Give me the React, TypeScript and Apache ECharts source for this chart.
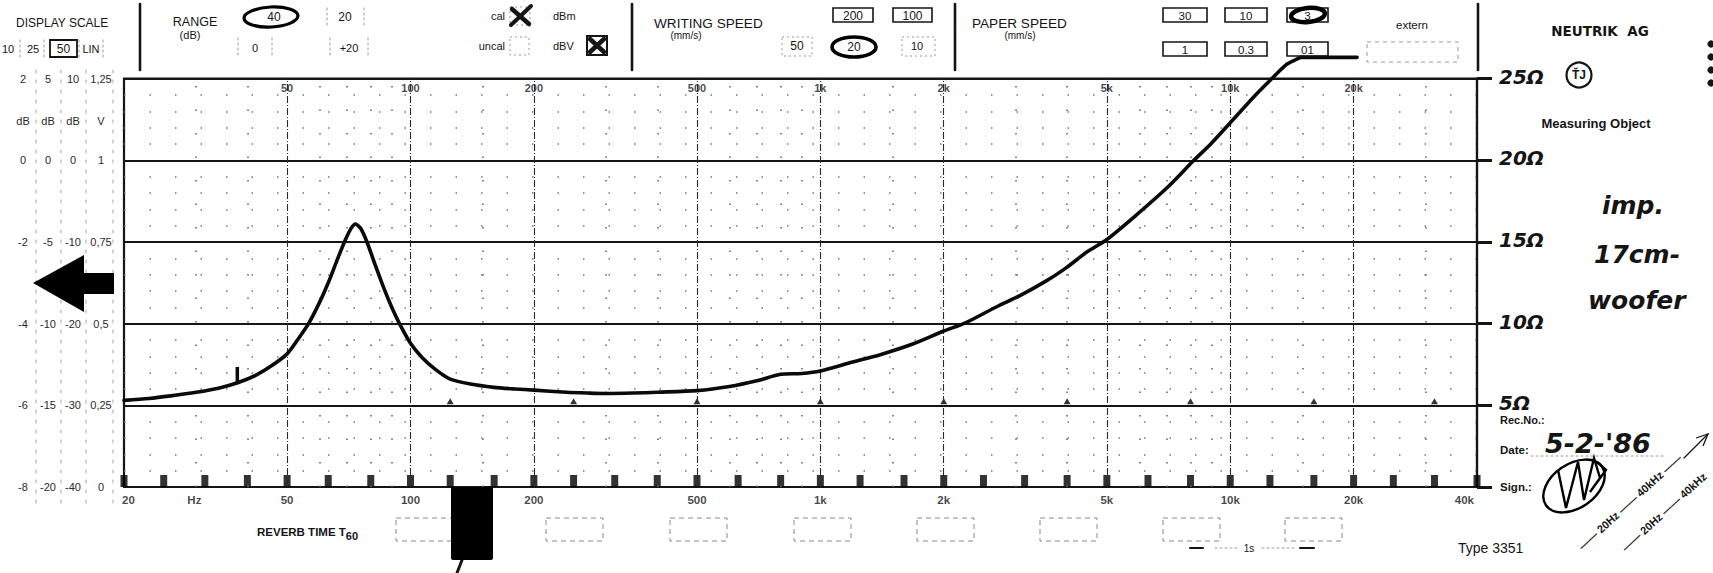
import React, { useEffect, useRef } from 'react';
import * as echarts from 'echarts';

// ---------- DATA ----------
const curveFreq = [20, 23, 26, 30, 34, 38, 42, 46, 50, 53, 56.4, 60, 63, 66, 69, 71.5, 73.4, 75.5, 78.3, 82, 86, 90, 94, 100, 107, 115, 125, 140, 160, 180, 200, 240, 270, 300, 350, 400, 500, 600, 700, 800, 900, 1000, 1180, 1400, 1680, 2000, 2260, 2700, 3060, 3550, 3970, 4450, 5000, 5870, 7000, 8120, 9000, 10000, 11530, 12750, 13700, 14300, 14900, 20400];
const curveOhm = [5.3, 5.42, 5.58, 5.8, 6.05, 6.4, 6.85, 7.45, 8.15, 9.0, 10.0, 11.3, 12.5, 13.8, 15.0, 15.8, 16.1, 15.85, 15.0, 13.6, 12.2, 11.0, 10.0, 8.8, 7.9, 7.2, 6.6, 6.3, 6.1, 6.0, 5.93, 5.8, 5.75, 5.72, 5.75, 5.8, 5.9, 6.15, 6.5, 6.9, 6.95, 7.1, 7.6, 8.1, 8.75, 9.55, 10.05, 11.05, 11.7, 12.6, 13.4, 14.35, 15.15, 16.6, 18.3, 19.95, 21.05, 22.3, 24.0, 25.1, 25.85, 26.1, 26.3, 26.3];
const glitchFreq = [37.8, 37.8];
const glitchOhm = [6.3, 7.35];

const thirdOctaveFreqs = [20, 25, 31.5, 40, 50, 63, 80, 100, 125, 160, 200, 250, 315, 400, 500, 630, 800, 1000, 1250, 1600, 2000, 2500, 3150, 4000, 5000, 6300, 8000, 10000, 12500, 16000, 20000, 25000, 31500, 40000];
const octaveMarkerFreqs = [125, 250, 500, 1000, 2000, 4000, 8000, 16000, 31500];
const majorGridFreqs = [50, 100, 200, 500, 1000, 2000, 5000, 10000, 20000];
const minorGridFreqs = [30, 40, 60, 70, 80, 90, 150, 300, 400, 600, 700, 800, 900, 1500, 3000, 4000, 6000, 7000, 8000, 9000, 15000, 30000];

const bottomLabelFreqs = [20, 29.7, 50, 100, 200, 500, 1000, 2000, 5000, 10000, 20000, 40000];
const bottomLabelTexts = ['20', 'Hz', '50', '100', '200', '500', '1k', '2k', '5k', '10k', '20k', '40k'];
const topLabelFreqs = [50, 100, 200, 500, 1000, 2000, 5000, 10000, 20000];
const topLabelTexts = ['50', '100', '200', '500', '1k', '2k', '5k', '10k', '20k'];

const ohmMin = 0;
const ohmMax = 25;
const ohmStep = 5;

const leftScaleLevels = [25, 22.4, 20, 15, 10, 5, 0];
const leftScaleRows = [
  ['2', '5', '10', '1,25'],
  ['dB', 'dB', 'dB', 'V'],
  ['0', '0', '0', '1'],
  ['-2', '-5', '-10', '0,75'],
  ['-4', '-10', '-20', '0,5'],
  ['-6', '-15', '-30', '0,25'],
  ['-8', '-20', '-40', '0'],
];

// ---------- LAYOUT ----------
const W = 1713;
const HGT = 573;
const G = { left: 124, top: 78.6, width: 1353, height: 408.4 };
const yOf = (v: number) => G.top + ((ohmMax - v) / (ohmMax - ohmMin)) * G.height;

const INK = '#151515';
const SANS = '"Liberation Sans", Arial, sans-serif';
const HAND = '"DejaVu Sans", sans-serif';

const txt = (x: number, y: number, text: string, o: any = {}) => ({
  type: 'text',
  x,
  y,
  rotation: o.rotation || 0,
  z: 20,
  style: {
    text,
    fill: o.fill || INK,
    fontSize: o.size || 11,
    fontFamily: o.family || SANS,
    fontWeight: o.weight || 'normal',
    fontStyle: o.style || 'normal',
    align: o.align || 'center',
    verticalAlign: 'middle',
    rich: o.rich,
  },
});
const ln = (x1: number, y1: number, x2: number, y2: number, w = 1, o: any = {}) => ({
  type: 'line',
  z: 20,
  shape: { x1, y1, x2, y2 },
  style: { stroke: o.stroke || INK, lineWidth: w, lineDash: o.dash, lineCap: 'round' },
});
const box = (x: number, y: number, w: number, h: number, o: any = {}) => ({
  type: 'rect',
  z: 20,
  shape: { x, y, width: w, height: h },
  style: { fill: o.fill || 'none', stroke: o.stroke || INK, lineWidth: o.lw || 1.3, lineDash: o.dash },
});
const ell = (cx: number, cy: number, rx: number, ry: number, lw = 3, rot = 0) => ({
  type: 'ellipse',
  z: 21,
  x: cx,
  y: cy,
  rotation: rot,
  shape: { cx: 0, cy: 0, rx, ry },
  style: { fill: 'none', stroke: '#000', lineWidth: lw },
});

function buildGraphics() {
  const g: any[] = [];
  const faint = { stroke: '#9a9a9a', dash: [2, 3] };

  // header separators
  [140, 632, 955, 1478].forEach((x) => g.push(ln(x, 4, x, 70, 2.6)));

  // DISPLAY SCALE
  g.push(txt(16, 23, 'DISPLAY SCALE', { align: 'left', size: 12 }));
  g.push(txt(8, 49, '10', { size: 11 }));
  g.push(txt(33, 49, '25', { size: 11 }));
  g.push(box(50, 40, 27, 17, { lw: 1.8 }));
  g.push(txt(63.5, 49, '50', { size: 12 }));
  g.push(txt(91, 49, 'LIN', { size: 11 }));
  [20, 44, 79, 103].forEach((x) => g.push(ln(x, 40, x, 58, 1, faint)));

  // RANGE
  g.push(txt(195, 22, 'RANGE', { size: 12.5 }));
  g.push(txt(190, 35, '(dB)', { size: 11 }));
  g.push(txt(274, 17, '40', { size: 12 }));
  g.push(ell(271, 17, 27, 10, 3.2, 0.05));
  g.push(txt(345, 17, '20', { size: 12 }));
  g.push(txt(255, 48, '0', { size: 11 }));
  g.push(txt(349, 48, '+20', { size: 11 }));
  [327, 364].forEach((x) => g.push(ln(x, 8, x, 25, 1, faint)));
  [238, 272, 330, 368].forEach((x) => g.push(ln(x, 38, x, 57, 1, faint)));

  // cal / uncal
  g.push(txt(505, 16, 'cal', { align: 'right', size: 11 }));
  g.push(box(510, 7, 20, 18, { stroke: '#999', dash: [2, 3], lw: 1 }));
  g.push(ln(512, 9, 529, 24, 4.5));
  g.push(ln(511, 25, 531, 6, 4));
  g.push(txt(553, 16, 'dBm', { align: 'left', size: 11 }));
  g.push(txt(505, 46, 'uncal', { align: 'right', size: 11 }));
  g.push(box(510, 37, 19, 18, { stroke: '#999', dash: [2, 3], lw: 1 }));
  g.push(txt(553, 46, 'dBV', { align: 'left', size: 11 }));
  g.push(box(587, 36, 20, 19, { lw: 2 }));
  g.push(ln(590, 39, 604, 52, 4.5));
  g.push(ln(590, 52, 604, 39, 4.5));

  // WRITING SPEED
  g.push(txt(654, 23, 'WRITING SPEED', { align: 'left', size: 13.6 }));
  g.push(txt(686, 35, '(mm/s)', { size: 10 }));
  g.push(box(833, 8, 40, 14, { lw: 1.6 }));
  g.push(txt(853, 15.5, '200', { size: 12 }));
  g.push(box(893, 8, 39, 14, { lw: 1.6 }));
  g.push(txt(912.5, 15.5, '100', { size: 12 }));
  g.push(box(782, 37, 30, 19, { stroke: '#999', dash: [2, 3], lw: 1 }));
  g.push(txt(797, 46, '50', { size: 12 }));
  g.push(txt(854, 47, '20', { size: 12 }));
  g.push(ell(854, 47, 22, 10, 3.6));
  g.push(box(902, 37, 33, 19, { stroke: '#999', dash: [2, 3], lw: 1 }));
  g.push(txt(917, 46, '10', { size: 11 }));

  // PAPER SPEED
  g.push(txt(972, 23, 'PAPER SPEED', { align: 'left', size: 13.6 }));
  g.push(txt(1020, 35, '(mm/s)', { size: 10 }));
  const psx = [1163, 1225, 1287];
  const psw = [44, 42, 41];
  const ps1 = ['30', '10', '3'];
  const ps2 = ['1', '0.3', '01'];
  psx.forEach((x, i) => {
    g.push(box(x, 8, psw[i], 14, { lw: 1.6 }));
    g.push(txt(x + psw[i] / 2, 15.5, ps1[i], { size: 11.5 }));
    g.push(box(x, 42, psw[i], 14, { lw: 1.6 }));
    g.push(txt(x + psw[i] / 2, 49.5, ps2[i], { size: 11.5 }));
  });
  g.push(ell(1308, 15, 17, 7, 4.5, 0.1));
  g.push(txt(1412, 25, 'extern', { size: 11.5 }));
  g.push(box(1367, 42, 91, 20, { stroke: '#999', dash: [4, 4], lw: 1 }));

  // NEUTRIK
  g.push(txt(1600, 31, 'NEUTRIK  AG', { size: 13.5, weight: 'bold', family: HAND }));
  g.push({ type: 'circle', z: 20, shape: { cx: 1579, cy: 75, r: 12.5 }, style: { fill: 'none', stroke: INK, lineWidth: 2.2 } });
  g.push(txt(1579, 75, 'ŤJ', { size: 12, weight: 'bold' }));
  g.push(txt(1596, 123, 'Measuring Object', { size: 13, weight: 'bold' }));
  [44, 57, 70, 83].forEach((y) => g.push({ type: 'circle', z: 20, shape: { cx: 1711, cy: y, r: 3.6 }, style: { fill: INK } }));

  // hand notes
  const hand = { family: HAND, style: 'italic', weight: 'bold', align: 'left' };
  g.push(txt(1602, 205, 'imp.', { ...hand, size: 25 }));
  g.push(txt(1594, 254, '17cm-', { ...hand, size: 25 }));
  g.push(txt(1588, 300, 'woofer', { ...hand, size: 25 }));
  g.push(txt(1500, 420, 'Rec.No.:', { size: 11, weight: 'bold', align: 'left' }));
  g.push(txt(1500, 450, 'Date:', { size: 11.5, weight: 'bold', align: 'left' }));
  g.push(ln(1531, 456, 1665, 456, 1, faint));
  g.push(txt(1545, 443, "5-2-'86", { ...hand, size: 27 }));
  g.push(txt(1500, 487, 'Sign.:', { size: 11.5, weight: 'bold', align: 'left' }));
  g.push(ell(1574, 486, 34, 22, 2.4, 0.6));
  g.push({
    type: 'polyline', z: 21,
    shape: { points: [[1558, 470], [1566, 508], [1578, 462], [1584, 500], [1594, 458], [1600, 478], [1590, 492], [1606, 470], [1597, 462]] },
    style: { fill: 'none', stroke: '#000', lineWidth: 2.4 },
  });
  g.push(txt(1458, 548, 'Type 3351', { size: 14, align: 'left' }));

  // diagonal notes
  g.push(txt(1630, 502, '—— 20Hz —— 40kHz ——', { size: 11, weight: 'bold', rotation: 0.74 }));
  g.push(txt(1664, 512, '—— 20Hz —— 40kHz', { size: 11, weight: 'bold', rotation: 0.74 }));
  g.push(ln(1684, 458, 1708, 434, 1.3));
  g.push({ type: 'polyline', z: 21, shape: { points: [[1696, 438], [1708, 434], [1703, 446]] }, style: { fill: 'none', stroke: INK, lineWidth: 1.3 } });

  // left scale
  const cols = [23, 48, 73, 101];
  leftScaleRows.forEach((row, ri) => {
    row.forEach((t, ci) => g.push(txt(cols[ci], yOf(leftScaleLevels[ri]), t, { size: 11, fill: '#2a2a2a' })));
  });
  [36, 61, 86, 113].forEach((x) => g.push(ln(x, 70, x, 505, 1, { stroke: '#a5a5a5', dash: [3, 7] })));
  g.push({
    type: 'polygon', z: 22,
    shape: { points: [[33, 283], [84, 255], [84, 273], [114, 273], [114, 294], [84, 294], [84, 312]] },
    style: { fill: '#000' },
  });

  // reverb
  g.push(txt(257, 532, 'REVERB TIME T{s|60}', {
    size: 11.5, align: 'left', weight: 'bold',
    rich: { s: { fontSize: 11, fontFamily: SANS, fontWeight: 'bold', fill: INK, verticalAlign: 'bottom', padding: [8, 0, 0, 0] } },
  }));
  [396, 546, 670, 794, 917, 1040, 1163, 1285].forEach((x) => g.push(box(x, 518, 57, 23, { stroke: '#888', dash: [5, 4], lw: 1 })));
  g.push({ type: 'rect', z: 23, shape: { x: 451, y: 487, width: 42, height: 73, r: 2 }, style: { fill: '#000' } });
  g.push(ln(462, 560, 457, 573, 3));
  g.push(txt(1249, 548, '1s', { size: 10 }));
  g.push(ln(1190, 548, 1203, 548, 2));
  g.push(ln(1300, 548, 1314, 548, 2));
  g.push(ln(1215, 548, 1237, 548, 1, faint));
  g.push(ln(1262, 548, 1296, 548, 1, faint));
  return g;
}

export default function App() {
  const ref = useRef<HTMLDivElement>(null);
  useEffect(() => {
    document.body.style.margin = '0';
    const chart = echarts.init(ref.current!, null, { renderer: 'svg' });

    const gridLineData = [
      ...majorGridFreqs.map((f) => ({ xAxis: f, lineStyle: { color: '#2b2b2b', width: 1.1, type: [7, 2, 1, 2] } })),
      ...minorGridFreqs.map((f) => ({ xAxis: f, lineStyle: { color: '#6a6a6a', width: 1.6, type: [1.5, 22] } })),
    ];

    const labelStyle = { fontFamily: SANS, fontSize: 11.5, fontWeight: 'bold', color: INK };

    chart.setOption({
      animation: false,
      backgroundColor: '#ffffff',
      grid: { ...G, show: true, borderColor: INK, borderWidth: 2.2, backgroundColor: 'transparent' },
      xAxis: {
        type: 'log',
        logBase: 10,
        min: 20,
        max: 40000,
        axisLine: { show: false },
        axisTick: { show: false },
        axisLabel: { show: false },
        splitLine: { show: false },
        minorSplitLine: { show: false },
      },
      yAxis: {
        type: 'value',
        position: 'right',
        min: ohmMin,
        max: ohmMax,
        interval: ohmStep,
        axisLine: { show: true, lineStyle: { color: INK, width: 2.2 } },
        axisTick: { show: true, inside: false, length: 15, lineStyle: { color: INK, width: 3 } },
        axisLabel: {
          margin: 22,
          align: 'left',
          verticalAlign: 'bottom',
          padding: [0, 0, -8, 0],
          fontFamily: HAND,
          fontStyle: 'italic',
          fontWeight: 'bold',
          fontSize: 20,
          color: INK,
          formatter: (v: number) => (v === 0 ? '' : v + 'Ω'),
        },
        splitLine: { show: true, lineStyle: { color: INK, width: 2.2 } },
        minorTick: { show: false, splitNumber: 5 },
        minorSplitLine: { show: true, lineStyle: { color: '#777', width: 1.6, type: [1.5, 24] } },
      },
      series: [
        {
          name: 'grid',
          type: 'line',
          data: [],
          z: 1,
          silent: true,
          markLine: { silent: true, symbol: 'none', label: { show: false }, data: gridLineData },
        },
        {
          name: 'thirdOctave',
          type: 'scatter',
          symbol: 'rect',
          symbolSize: [7, 12],
          symbolOffset: [0, -6],
          itemStyle: { color: '#000' },
          z: 4,
          silent: true,
          data: thirdOctaveFreqs.map((f) => [f, ohmMin]),
        },
        {
          name: 'octave',
          type: 'scatter',
          symbol: 'triangle',
          symbolSize: [7, 6],
          symbolOffset: [0, -4],
          itemStyle: { color: '#000' },
          z: 4,
          silent: true,
          data: octaveMarkerFreqs.map((f) => [f, 5]),
        },
        {
          name: 'bottomLabels',
          type: 'scatter',
          symbolSize: 0,
          z: 4,
          silent: true,
          label: { show: true, position: 'bottom', distance: 7, formatter: '{b}', ...labelStyle },
          data: bottomLabelFreqs.map((f, i) => ({
            name: bottomLabelTexts[i],
            value: [f, ohmMin],
            label: i === 0 ? { align: 'left', offset: [-2, 0] } : i === bottomLabelFreqs.length - 1 ? { align: 'right', offset: [-3, 0] } : {},
          })),
        },
        {
          name: 'topLabels',
          type: 'scatter',
          symbolSize: 0,
          z: 4,
          silent: true,
          label: { show: true, position: 'bottom', distance: 4, formatter: '{b}', ...labelStyle, fontSize: 11 },
          data: topLabelFreqs.map((f, i) => ({ name: topLabelTexts[i], value: [f, ohmMax] })),
        },
        {
          name: 'impedance',
          type: 'line',
          data: curveFreq.map((f, i) => [f, curveOhm[i]]),
          showSymbol: false,
          smooth: 0.25,
          clip: false,
          z: 10,
          lineStyle: { color: '#0a0a0a', width: 3.6, cap: 'round', join: 'round' },
        },
        {
          name: 'glitch',
          type: 'line',
          data: glitchFreq.map((f, i) => [f, glitchOhm[i]]),
          showSymbol: false,
          clip: false,
          z: 10,
          lineStyle: { color: '#0a0a0a', width: 3.5 },
        },
      ],
      graphic: buildGraphics(),
    });
    return () => chart.dispose();
  }, []);
  return <div ref={ref} style={{ width: W, height: HGT }} />;
}
